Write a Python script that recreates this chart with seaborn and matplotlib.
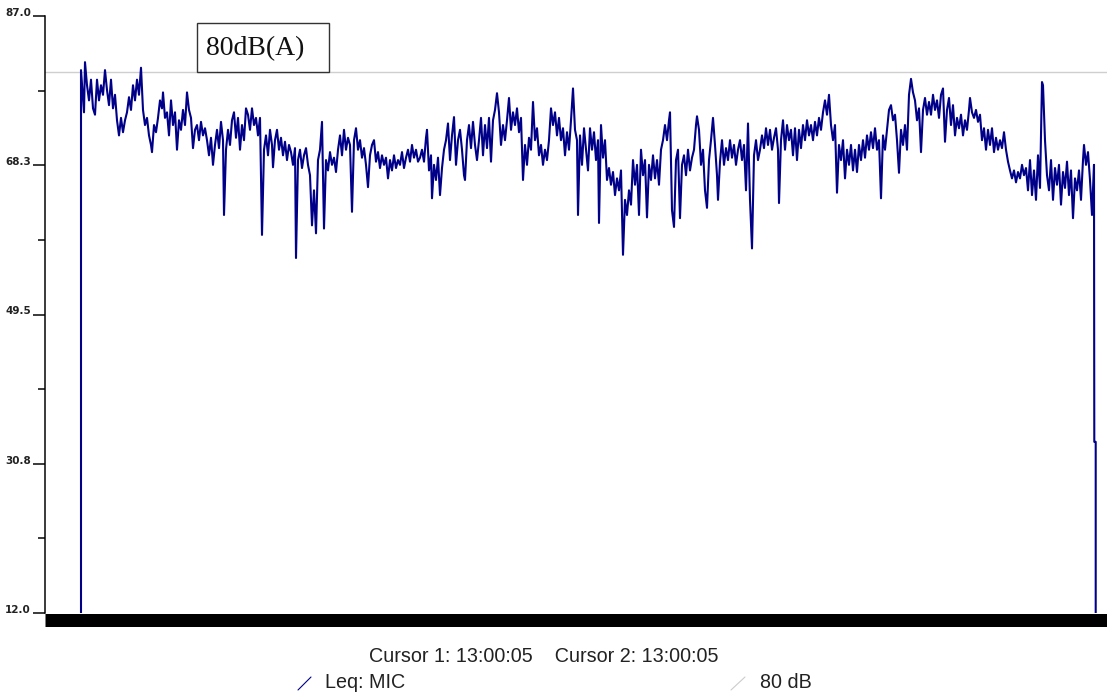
import numpy as np
import pandas as pd
import matplotlib
matplotlib.use("Agg")
import matplotlib.pyplot as plt
import seaborn as sns
from matplotlib.patches import Rectangle
from matplotlib.lines import Line2D

sns.set_style("white")
plt.rcParams['font.family'] = ['DejaVu Sans']

# ---------------- data (sample number, Leq in dB(A)) ----------------
start_x = [81]
start_v = [12.0]

seg1_x = [81,84,85,87,89,91,93,95,97,99,101,103,105,107,109,111,113,115,117,119,121,123,125,127,129,131,133,135,137,139,141,143,145,147,149,151,152,154,156,158,160,162,163,165,167,169,171,173,175,177,179,181,183,185,187,189,191,193,195,197,199,201,203,205,207,209,211,213,215,217,219,221,223,224,226,228,230,232,234,236,238,240,242,244,246]
seg1_v = [80.2,74.9,81.2,78.3,76.4,79.0,75.4,74.6,79.0,76.4,78.3,77.1,80.2,77.7,75.8,79.0,75.4,77.1,73.9,72.0,74.2,72.4,73.9,74.9,76.8,75.2,78.3,76.4,79.0,77.1,80.5,75.2,73.3,74.2,72.0,70.8,69.9,73.3,72.4,74.2,76.4,75.4,77.4,74.2,74.9,72.0,76.4,73.3,74.9,70.2,73.9,72.7,75.2,73.3,77.4,75.2,74.2,70.4,72.7,73.3,71.4,73.7,72.0,72.9,71.4,69.5,71.7,68.3,70.8,72.7,70.4,73.7,71.4,62.0,70.2,72.7,70.8,73.9,74.9,71.7,74.2,70.2,73.3,71.4,75.4]

seg2_x = [248,250,252,254,256,258,260,262,264,266,268,270,272,273,275,277,279,281,283,285,287,289,291,293,295,296,298,300,302,304,306,308,310,312,314,316,318,320,322,324,326,328,330,332,334,336,338,340,342,344,346,348,350,352,354,356,358,360,362,364,366,368,370,372,374,376,378,380,382,384,386,388,390,392,394,396,398,400,402,404,406,408,410,412,414,416,418]
seg2_v = [74.6,72.7,75.4,73.3,74.2,72.0,74.2,59.5,70.2,72.0,69.5,72.7,70.8,68.0,71.4,72.7,70.2,71.7,69.5,71.2,68.9,70.8,69.9,68.3,70.4,56.6,68.9,70.2,67.9,69.5,70.4,68.3,67.0,60.7,65.1,59.7,68.9,70.2,73.7,60.3,68.9,67.6,69.9,68.3,69.2,67.4,70.2,72.0,69.5,72.7,70.2,71.7,70.8,62.4,71.4,72.9,70.2,71.4,69.2,70.4,68.3,65.5,69.5,70.8,71.4,68.7,69.9,67.9,69.5,68.3,69.2,66.6,68.9,67.6,69.5,67.9,68.9,68.3,69.9,67.9,69.2,70.2,68.7,70.8,69.2,70.2,68.7]

seg3_x = [420,422,424,426,427,429,431,432,434,436,438,440,442,444,446,448,450,452,454,456,458,460,462,464,465,467,469,471,473,475,477,479,481,483,485,487,489,491,493,495,497,499,501,503,505,507,509,511,513,515,517,519,521,523,525,527,529,531,533,535,537,539,541,543,545,547,549,551,553,555,557,559,561,563,565,567,569,571,573,575,577,578,580,582,584,586,588]
seg3_v = [69.2,70.2,68.7,71.7,72.7,67.6,69.5,64.1,68.3,66.4,69.2,64.5,67.9,70.2,71.4,73.5,68.9,72.0,74.3,68.3,71.4,72.7,70.2,67.0,66.4,71.4,73.3,70.4,73.7,70.8,68.9,71.4,74.2,69.5,73.3,70.4,74.2,68.7,73.9,75.2,77.3,74.9,70.8,73.3,71.4,73.9,76.7,72.7,74.9,73.3,75.4,72.4,74.2,66.4,70.8,68.3,71.7,70.2,76.2,71.4,72.9,69.5,70.8,68.3,70.2,68.9,71.4,75.4,73.3,74.9,72.0,74.2,71.4,72.9,69.5,72.4,70.2,73.9,77.9,72.7,71.4,62.0,72.0,68.3,72.9,70.2,67.6]

seg4_x = [590,592,594,596,598,599,601,603,605,607,609,611,613,615,617,619,621,623,625,627,629,631,633,635,637,639,641,643,645,647,649,651,653,655,657,659,661,663,665,667,669,670,672,674,676,678,680,682,684,686,688,690,692,694,696,697,699,701,703,705,707,709,711,713,715,717,718,720,722,724,726,728,730,732,734,736,738,740,742,744,746,748,750,752,754,756,758]
seg4_v = [72.9,70.2,72.4,68.9,71.4,61.0,73.3,69.2,71.4,66.4,67.9,65.8,67.4,64.5,66.6,65.1,67.6,57.0,63.9,62.0,65.1,63.3,68.9,65.8,68.3,62.0,70.2,67.0,68.9,61.7,68.3,66.4,69.5,66.6,68.9,65.8,70.2,71.4,73.3,71.4,73.9,74.9,62.6,60.5,68.9,70.2,61.6,68.3,69.5,67.0,70.2,67.6,69.2,70.2,73.3,74.4,72.7,68.3,70.2,65.1,62.9,68.9,71.4,74.2,70.8,67.0,63.9,68.7,71.4,68.3,70.4,68.9,71.4,69.2,70.8,68.3,70.2,71.4,68.9,70.8,65.1,73.5,63.9,57.8,69.5,71.4,68.9]

seg5_x = [760,762,764,766,768,770,772,774,776,778,779,781,783,785,787,789,791,793,795,797,799,801,803,805,807,809,811,813,815,817,819,821,823,825,827,829,831,833,835,837,839,841,843,845,847,849,851,853,855,857,859,861,863,865,867,869,871,873,875,877,879,881,883,885,887,889,891,893,895,897,899,901,903,905,907,909,911,913,915,917,919,921,923,925,927,929]
seg5_v = [70.2,72.0,70.4,72.9,70.8,72.7,70.2,71.7,72.9,70.2,63.5,71.4,73.9,70.2,73.3,71.4,72.7,69.5,72.9,68.9,72.7,70.4,73.3,71.4,73.9,72.0,73.3,71.4,73.7,72.0,74.2,72.7,74.9,76.4,74.6,77.1,73.3,71.4,73.3,64.8,70.8,68.9,71.4,66.6,70.2,68.3,70.8,67.6,70.2,67.4,70.8,68.9,71.4,69.2,72.0,70.2,72.4,70.4,72.9,70.2,71.4,64.1,72.0,70.2,72.7,75.2,75.8,73.9,74.6,71.4,67.3,72.7,70.8,73.3,70.2,77.1,79.1,77.4,76.4,73.9,75.4,69.9,75.2,76.7,74.6,76.2]

seg6_x = [931,933,935,937,939,941,943,945,947,949,951,953,955,957,959,961,963,965,967,969,970,972,974,976,978,980,982,984,986,988,990,992,994,996,998,1000,1002,1004,1006,1008,1010,1012,1014,1016,1018,1020,1022,1024,1026,1028,1030,1032,1034,1036,1038,1040,1042,1043,1045,1047,1049,1051,1053,1055,1057,1059,1061,1063,1065,1067,1069,1071,1073,1075,1077,1079,1081,1083,1084,1086,1088,1090,1092,1094]
seg6_v = [74.6,77.1,75.2,76.4,74.2,77.1,77.9,71.2,75.2,76.7,73.3,75.8,72.0,74.2,72.9,74.6,72.0,73.9,72.7,75.2,76.7,74.9,74.2,75.2,73.7,74.6,71.4,72.9,70.2,72.7,70.8,72.9,69.9,71.7,70.2,71.4,70.4,72.4,70.2,68.7,67.6,66.6,67.6,66.1,67.4,66.6,68.3,67.0,67.9,65.1,68.9,64.5,67.6,63.9,69.5,65.4,78.7,78.3,71.4,67.0,65.1,68.9,63.9,67.9,65.8,68.3,63.3,67.4,65.4,68.7,64.5,67.6,61.6,66.6,65.1,67.6,63.9,68.9,70.8,68.3,69.9,66.4,62.0,68.3]

end_x = [1094.3, 1095.7, 1095.7]
end_v = [33.5, 33.5, 12.0]

sample_no = start_x + seg1_x + seg2_x + seg3_x + seg4_x + seg5_x + seg6_x + end_x
leq_db = start_v + seg1_v + seg2_v + seg3_v + seg4_v + seg5_v + seg6_v + end_v

y_ticks = [12.0, 30.75, 49.5, 68.25, 87.0]
y_tick_labels = ["12.0", "30.8", "49.5", "68.3", "87.0"]
y_minor_ticks = [21.375, 40.125, 58.875, 77.625]
x_range = [45, 1107]
limit_db = 80.0
limit_label = "80dB(A)"
cursor_text = "Cursor 1: 13:00:05    Cursor 2: 13:00:05"
legend_labels = ["Leq: MIC", "80 dB"]

# ---------------- figure ----------------
W, H = 1107, 696
PT = 72 / 100.0  # points per pixel at dpi 100
fig = plt.figure(figsize=(W / 100, H / 100), dpi=100)
fig.patch.set_facecolor("white")
ax = fig.add_axes([45 / W, 1 - 613 / H, 1 - 45 / W, (613 - 16) / H])

df = pd.DataFrame({"sample": sample_no, "leq": leq_db})
sns.lineplot(data=df, x="sample", y="leq", ax=ax, sort=False, estimator=None,
             color="#000088", linewidth=1.5, zorder=3)
ax.axhline(limit_db, color="#cfcfcf", linewidth=1.4 * PT, zorder=2)

ax.set_xlim(*x_range)
ax.set_ylim(y_ticks[0], y_ticks[-1])
ax.set_xlabel("")
ax.set_ylabel("")
ax.set_xticks([])
ax.set_yticks(y_ticks)
ax.set_yticklabels(y_tick_labels)
ax.set_yticks(y_minor_ticks, minor=True)
ax.tick_params(axis="y", which="major", length=12 * PT, width=1.5 * PT, color="black",
               labelsize=7.5, pad=1.5, labelcolor="#222222", left=True)
ax.tick_params(axis="y", which="minor", length=7 * PT, width=1.5 * PT, color="black", left=True)
for lab in ax.get_yticklabels():
    lab.set_fontweight("bold")
    lab.set_va("baseline")

for s in ["top", "right"]:
    ax.spines[s].set_visible(False)
ax.spines["left"].set_color("black")
ax.spines["left"].set_linewidth(1.5 * PT)
ax.spines["bottom"].set_color("black")
ax.spines["bottom"].set_linewidth(13 * PT)
ax.spines["bottom"].set_position(("outward", 6.5 * PT))
ax.spines["bottom"].set_capstyle("butt")

# limit label box
ax.add_patch(Rectangle((197, limit_db), 132, 6.1, facecolor="white", edgecolor="#333333",
                       linewidth=1.4 * PT, zorder=4))
ax.text(206, limit_db + 2.95, limit_label, family="Liberation Serif", fontsize=20,
        ha="left", va="center", color="#111111", zorder=5)

# footer
fs_footer = 14.2
fig.text(544 / W, 1 - 657 / H, cursor_text, ha="center", va="center",
         family="Liberation Sans", fontsize=fs_footer, color="#222222")
fig.add_artist(Line2D([298 / W, 311 / W], [1 - 690 / H, 1 - 677 / H], transform=fig.transFigure,
                      color="#000088", linewidth=0.8))
fig.text(325 / W, 1 - 683 / H, legend_labels[0], ha="left", va="center",
         family="Liberation Sans", fontsize=fs_footer, color="#222222")
fig.add_artist(Line2D([731 / W, 745 / W], [1 - 690 / H, 1 - 677 / H], transform=fig.transFigure,
                      color="#cccccc", linewidth=0.8))
fig.text(760 / W, 1 - 683 / H, legend_labels[1], ha="left", va="center",
         family="Liberation Sans", fontsize=fs_footer, color="#222222")

fig.savefig("out.png", dpi=100, facecolor="white")
